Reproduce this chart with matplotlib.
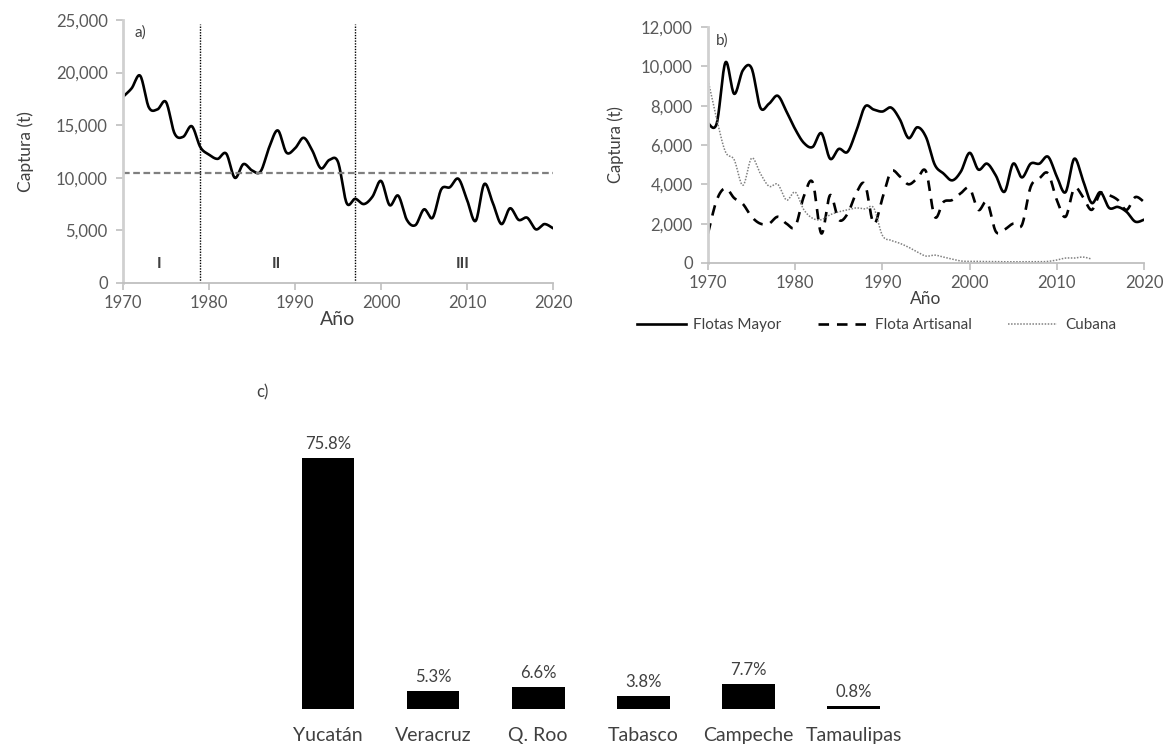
import numpy as np
import matplotlib
matplotlib.use("Agg")
import matplotlib.pyplot as plt
from matplotlib.ticker import FuncFormatter

plt.rcParams['font.family'] = ['Lato', 'DejaVu Sans']

# ---------------- data ----------------
years = list(range(1970, 2021))

captura_total = [17700, 18500, 19700, 16700, 16500, 17200, 14200, 13900, 14900, 12900,
                 12200, 11800, 12300, 10000, 11300, 10700, 10600, 12900, 14500, 12400,
                 12800, 13800, 12600, 10900, 11700, 11500, 7600, 8000, 7500, 8200,
                 9700, 7400, 8300, 6000, 5500, 7000, 6200, 8900, 9100, 9900,
                 7900, 5900, 9400, 7600, 5600, 7100, 6000, 6200, 5100, 5600, 5200]

umbral = 10500
cortes = [1979, 1997]
periodos = ["I", "II", "III"]
periodos_x = [1974.2, 1987.8, 2009.5]

flota_mayor = [7100, 7100, 10200, 8600, 9800, 9900, 7900, 8100, 8500, 7700,
               6800, 6100, 5900, 6600, 5300, 5800, 5650, 6700, 7950, 7800,
               7700, 7900, 7300, 6350, 6900, 6400, 5000, 4550, 4200, 4650,
               5600, 4750, 5050, 4450, 3620, 5050, 4350, 5050, 5050, 5400,
               4400, 3600, 5300, 4200, 3050, 3600, 2800, 2850, 2600, 2100, 2200]

flota_artesanal = [1500, 3200, 3800, 3300, 3000, 2350, 2000, 2000, 2350, 2000,
                   1850, 3400, 4100, 1500, 3450, 2200, 2500, 3550, 4000, 2000,
                   3300, 4650, 4400, 4000, 4300, 4650, 2350, 3100, 3200, 3550,
                   3800, 2700, 3100, 1600, 1700, 2000, 1930, 3870, 4300, 4550,
                   3200, 2350, 3800, 3350, 2700, 3550, 3450, 3200, 2700, 3350, 3100]

cubana = [9300, 7300, 5650, 5250, 3950, 5330, 4550, 3900, 4000, 3200,
          3600, 2700, 2270, 2200, 2450, 2600, 2700, 2800, 2750, 2800,
          1400, 1150, 1000, 800, 560, 350, 400, 300, 200, 100,
          80, 80, 70, 70, 60, 60, 60, 60, 60, 80,
          150, 250, 250, 300, 200] + [np.nan] * 6

estados = ["Yucatán", "Veracruz", "Q. Roo", "Tabasco", "Campeche", "Tamaulipas"]
porcentajes = [75.8, 5.3, 6.6, 3.8, 7.7, 0.8]

# ---------------- helpers ----------------
def smooth(x, y, n=16):
    x = np.asarray(x, float)
    y = np.asarray(y, float)
    m = ~np.isnan(y)
    x, y = x[m], y[m]
    P = np.column_stack([x, y])
    P = np.vstack([P[0], P, P[-1]])
    t = np.linspace(0, 1, n, endpoint=False)[:, None]
    out = []
    for i in range(1, len(P) - 2):
        p0, p1, p2, p3 = P[i - 1], P[i], P[i + 1], P[i + 2]
        seg = 0.5 * (2 * p1 + (-p0 + p2) * t + (2 * p0 - 5 * p1 + 4 * p2 - p3) * t ** 2
                     + (-p0 + 3 * p1 - 3 * p2 + p3) * t ** 3)
        out.append(seg)
    out.append(P[-2][None, :])
    out = np.vstack(out)
    return out[:, 0], out[:, 1]

comma = FuncFormatter(lambda v, p: f"{int(v):,}")
TICK = "#595959"
SPINE = "#bfbfbf"

def style_axes(ax):
    for s in ["top", "right"]:
        ax.spines[s].set_visible(False)
    ax.spines["left"].set_color("#d0d0d0")
    ax.spines["left"].set_linewidth(2.0)
    ax.spines["bottom"].set_color(SPINE)
    ax.spines["bottom"].set_linewidth(1.3)
    ax.tick_params(axis="both", colors=SPINE, labelcolor=TICK, labelsize=12,
                   length=5, width=1.2, direction="out")
    ax.tick_params(axis="y", pad=6)
    ax.tick_params(axis="x", pad=4)

fig = plt.figure(figsize=(11.67, 7.49), dpi=100)

# ---------------- panel a ----------------
axA = fig.add_axes([0.1054, 0.6222, 0.3685, 0.3511])
xs, ys = smooth(years, captura_total)
axA.plot(xs, ys, color="black", lw=1.9, solid_capstyle="round")
axA.axhline(umbral, color="#7f7f7f", lw=1.6, ls=(0, (3, 1.6)))
for c in cortes:
    axA.axvline(c, ymin=0, ymax=0.985, color="black", lw=1.0, ls=(0, (1, 1)))
for lab, px in zip(periodos, periodos_x):
    axA.text(px, 1800, lab, ha="center", va="center", fontsize=11.5, color="#404040",
             fontweight="bold")
axA.text(1972, 23800, "a)", ha="center", va="center", fontsize=11, color="#404040")
axA.set_xlim(1970, 2020)
axA.set_ylim(0, 25000)
axA.set_xticks(range(1970, 2021, 10))
axA.set_yticks(range(0, 25001, 5000))
axA.yaxis.set_major_formatter(comma)
style_axes(axA)
axA.set_ylabel("Captura (t)", fontsize=12.5, color="#404040", labelpad=16)
axA.set_xlabel("Año", fontsize=14, color="#404040", labelpad=0)

# ---------------- panel b ----------------
axB = fig.add_axes([0.6067, 0.6489, 0.3736, 0.3151])
xs, ys = smooth(years, flota_mayor)
l1, = axB.plot(xs, ys, color="black", lw=1.9, label="Flotas Mayor")
xs, ys = smooth(years, flota_artesanal)
l2, = axB.plot(xs, ys, color="black", lw=1.9, ls=(0, (4, 3)), label="Flota Artisanal")
xs, ys = smooth(years, cubana)
l3, = axB.plot(xs, ys, color="#808080", lw=1.1, ls=(0, (1, 1)), label="Cubana")
axB.text(1971.6, 11300, "b)", ha="center", va="center", fontsize=11, color="#404040")
axB.set_xlim(1970, 2020)
axB.set_ylim(0, 12000)
axB.set_xticks(range(1970, 2021, 10))
axB.set_yticks(range(0, 12001, 2000))
axB.yaxis.set_major_formatter(comma)
style_axes(axB)
axB.set_ylabel("Captura (t)", fontsize=12, color="#404040", labelpad=12)
axB.set_xlabel("Año", fontsize=12.5, color="#404040", labelpad=0)

fig.legend(handles=[l1, l2, l3], loc="center", bbox_to_anchor=(0.751, 0.566),
           ncol=3, frameon=False, fontsize=11, handlelength=3.2, columnspacing=2.4,
           handletextpad=0.5, labelcolor="#404040")

# ---------------- panel c ----------------
axC = fig.add_axes([0.2361, 0.0534, 0.5403, 0.3979])
pos = np.arange(len(estados))
bars = axC.bar(pos, porcentajes, width=0.5, color="black")
for b, v in zip(bars, porcentajes):
    axC.text(b.get_x() + b.get_width() / 2, v + 1.8, f"{v}%", ha="center", va="bottom",
             fontsize=12, color="#404040")
axC.set_xlim(-0.5, len(estados) - 0.5)
axC.set_ylim(0, 90)
axC.set_xticks(pos)
axC.set_xticklabels(estados)
axC.tick_params(axis="x", length=0, labelsize=14, labelcolor="#404040", pad=13)
axC.set_yticks([])
for s in axC.spines.values():
    s.set_visible(False)
fig.text(262 / 1167, 1 - 392 / 749, "c)", ha="center", va="center", fontsize=12,
         color="#404040")

fig.savefig("out.png", dpi=100)
